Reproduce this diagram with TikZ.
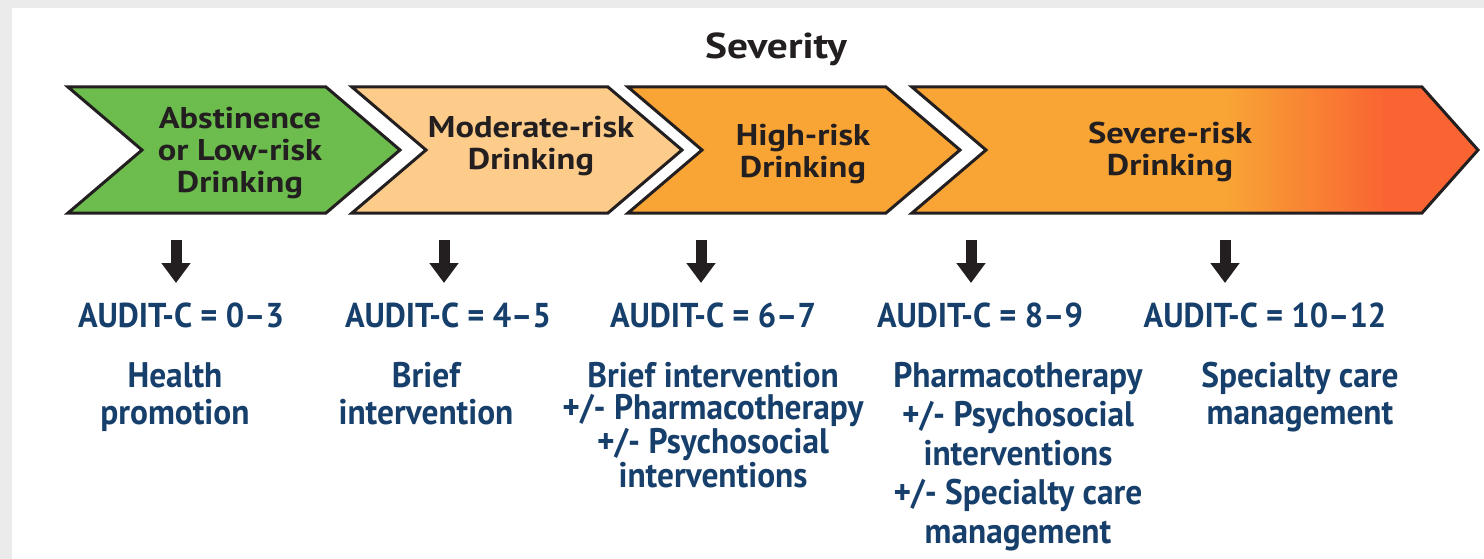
\documentclass[tikz,border=0pt]{standalone}
\usepackage{fontspec}
\setsansfont{PT Sans}
\newfontfamily\condfont[FakeStretch=0.94]{PT Sans}
\newfontfamily\widefont[FakeStretch=1.15]{PT Sans}
\usetikzlibrary{arrows.meta}

\definecolor{bggray}{HTML}{EBEBEB}
\definecolor{outline}{HTML}{231F20}
\definecolor{lowgreen}{HTML}{6CBC4E}
\definecolor{modorange}{HTML}{FDCB8A}
\definecolor{highorange}{HTML}{F8A535}
\definecolor{sevred}{HTML}{F96432}
\definecolor{navy}{HTML}{173F6B}

\pgfdeclarehorizontalshading{sevshade}{100bp}{color(0bp)=(highorange); color(52.7bp)=(highorange); color(66.9bp)=(sevred); color(100bp)=(sevred)}

\begin{document}
\begin{tikzpicture}[x=1pt,y=-1pt,
		chev/.style={draw=outline,line width=3pt,line join=miter},
		chevtext/.style={font=\widefont\bfseries\fontsize{30}{32}\selectfont,text=outline,align=center,inner sep=0pt},
		audit/.style={font=\condfont\bfseries\fontsize{34.5}{37}\selectfont,text=navy,inner sep=0pt},
		care/.style={font=\condfont\bfseries\fontsize{35.5}{37}\selectfont,text=navy,align=center,inner sep=0pt,anchor=north},
		bigarrow/.style={draw=outline,line width=11pt,-{Triangle[width=28pt,length=20pt]}}]
		% frame
		\useasboundingbox (0,0) rectangle (1484,559);
		\fill[bggray] (0,0) rectangle (1484,559);
		\fill[white] (12,8) rectangle (1484,559);
		
		\node[font=\widefont\bfseries\fontsize{36}{40}\selectfont,text=outline] (title) at (776,49) {Severity};
		
		% chevrons
		\draw[chev,fill=lowgreen] (68,87) -- (326,87) -- (400,150) -- (326,213) -- (68,213) -- (142,150) -- cycle;
		\draw[chev,fill=modorange] (352,87) -- (608,87) -- (682,150) -- (608,213) -- (352,213) -- (426,150) -- cycle;
		\draw[chev,fill=highorange] (628,87) -- (886,87) -- (960,150) -- (886,213) -- (628,213) -- (702,150) -- cycle;
		\draw[chev,shade,shading=sevshade] (912,87) -- (1422,87) -- (1478,150) -- (1422,213) -- (912,213) -- (986,150) -- cycle;
		
		\node[chevtext] (low) at (240,153) {Abstinence\\or Low-risk\\Drinking};
		\node[chevtext] (mod) at (531,146) {Moderate-risk\\Drinking};
		\node[chevtext] (high) at (803,154) {High-risk\\Drinking};
		\node[chevtext] (sev) at (1170,152) {Severe-risk\\Drinking};
		
		% arrows
		\foreach \x [count=\i] in {176,444,701,971,1225} {
			\coordinate (top\i) at (\x,240);
			\coordinate (tip\i) at (\x,283);
			\draw[bigarrow] (top\i) -- (tip\i);
		}
		
		% scores
		\node[audit] (score1) at (181,315) {AUDIT-C = 0–3};
		\node[audit] (score2) at (448,315) {AUDIT-C = 4–5};
		\node[audit] (score3) at (713,315) {AUDIT-C = 6–7};
		\node[audit] (score4) at (980,315) {AUDIT-C = 8–9};
		\node[audit] (score5) at (1265,315) {AUDIT-C = 10–12};
		
		% care
		\node[care] (care1) at (175,362) {Health\\promotion};
		\node[care] (care2) at (426,362) {Brief\\intervention};
		\node[care,font=\condfont\bfseries\fontsize{35.5}{32.5}\selectfont] (care3) at (713,362) {Brief intervention\\+/- Pharmacotherapy\\+/- Psychosocial\\interventions};
		\node[care,font=\condfont\bfseries\fontsize{35.5}{39}\selectfont] (care4) at (1018,362) {Pharmacotherapy\\+/- Psychosocial\\interventions\\+/- Specialty care\\management};
		\node[care] (care5) at (1300,362) {Specialty care\\management};
\end{tikzpicture}
\end{document}
